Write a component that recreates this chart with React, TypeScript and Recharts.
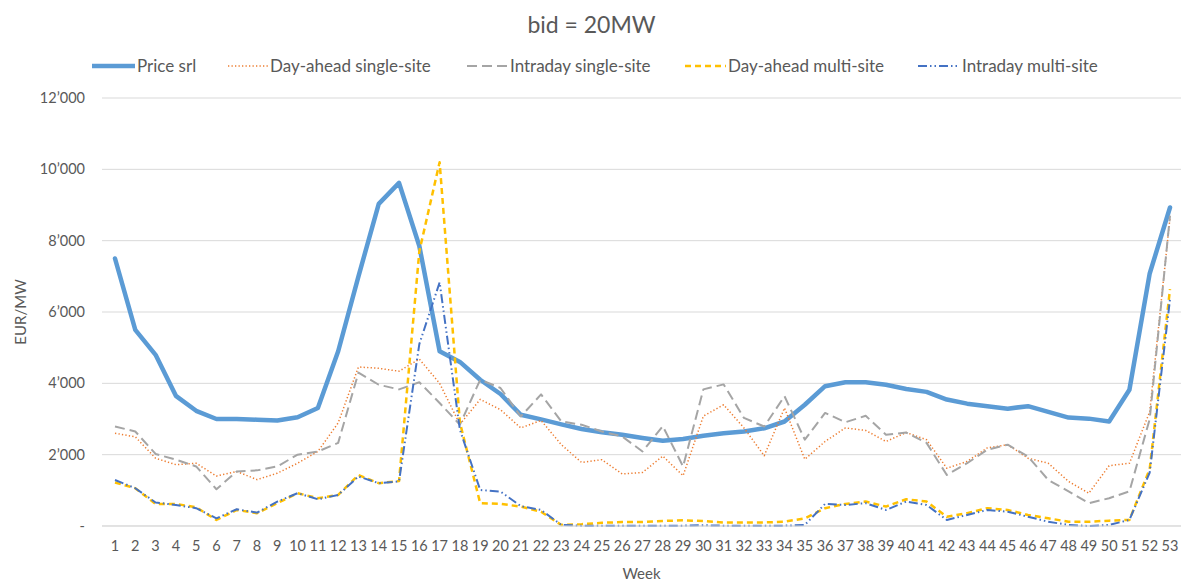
import { LineChart, Line, XAxis, YAxis, CartesianGrid } from "recharts";

const WEEKS = Array.from({ length: 53 }, (_, i) => String(i + 1));

const PRICE_SRL = [
  7500, 5500, 4800, 3650, 3230, 3000, 3000, 2980, 2960, 3050, 3310, 4900, 7000, 9030, 9620, 7850,
  4900, 4600, 4100, 3700, 3120, 2990, 2850, 2720, 2630, 2560, 2470, 2390, 2440, 2530, 2600, 2650,
  2740, 2930, 3400, 3920, 4030, 4030, 3960, 3840, 3760, 3545, 3430, 3360, 3290, 3360, 3200, 3040,
  3010, 2930, 3820, 7080, 8930,
];

const DAY_AHEAD_SINGLE = [
  2600, 2500, 1900, 1720, 1760, 1400, 1530, 1300, 1480, 1760, 2090, 2890, 4460, 4420, 4340, 4680,
  4000, 2850, 3550, 3260, 2750, 2960, 2280, 1780, 1860, 1460, 1500, 1960, 1410, 3080, 3400, 2750,
  1970, 3310, 1870, 2370, 2750, 2680, 2370, 2620, 2420, 1620, 1810, 2190, 2280, 1900, 1760, 1250,
  920, 1690, 1760, 3200, 8650,
];

const INTRADAY_SINGLE = [
  2790, 2650, 2020, 1860, 1670, 1030, 1530, 1560, 1670, 2000, 2090, 2330, 4300, 3960, 3830, 4030,
  3450, 2840, 4100, 3870, 3070, 3690, 2930, 2840, 2650, 2510, 2090, 2800, 1670, 3830, 3970, 3030,
  2790, 3640, 2420, 3170, 2910, 3090, 2560, 2620, 2330, 1430, 1760, 2140, 2280, 1950, 1290, 970,
  640, 780, 970, 3000, 8700,
];

const DAY_AHEAD_MULTI = [
  1220, 1060, 620, 620, 525, 170, 450, 360, 640, 920, 780, 870, 1430, 1200, 1260, 7700, 10200,
  2900, 640, 620, 545, 400, 30, 50, 90, 110, 110, 140, 160, 140, 100, 100, 100, 120, 215, 500, 620,
  685, 545, 750, 685, 260, 360, 500, 450, 310, 215, 120, 120, 150, 170, 1600, 6640,
];

const INTRADAY_MULTI = [
  1290, 1060, 660, 590, 500, 215, 470, 375, 685, 920, 750, 870, 1390, 1200, 1250, 5100, 6830, 2700,
  1010, 965, 560, 450, 30, 10, 10, 10, 10, 10, 10, 20, 10, 10, 10, 10, 30, 620, 590, 640, 450, 685,
  590, 170, 310, 450, 400, 260, 120, 30, 0, 30, 170, 1500, 6360,
];

const Y_TICKS = [0, 2000, 4000, 6000, 8000, 10000, 12000];

const SERIES = [
  { key: "price", name: "Price srl", color: "#5B9BD5", width: 4.5, dash: undefined, cap: "round", legendX: 92, textX: 137 },
  { key: "daSingle", name: "Day-ahead single-site", color: "#ED7D31", width: 1.5, dash: "1.3 2.2", cap: "butt", legendX: 228, textX: 270 },
  { key: "idSingle", name: "Intraday single-site", color: "#A5A5A5", width: 2, dash: "10 5", cap: "butt", legendX: 467, textX: 510 },
  { key: "daMulti", name: "Day-ahead multi-site", color: "#FFC000", width: 2.5, dash: "6 4", cap: "butt", legendX: 685, textX: 728 },
  { key: "idMulti", name: "Intraday multi-site", color: "#4472C4", width: 2, dash: "9 3 1.5 3 1.5 3", cap: "butt", legendX: 918, textX: 962 },
];

const data = WEEKS.map((week, i) => ({
  week,
  price: PRICE_SRL[i],
  daSingle: DAY_AHEAD_SINGLE[i],
  idSingle: INTRADAY_SINGLE[i],
  daMulti: DAY_AHEAD_MULTI[i],
  idMulti: INTRADAY_MULTI[i],
}));

const TEXT = "#595959";
const FONT = "Lato, 'Open Sans', sans-serif";

function formatTick(v: number) {
  if (v === 0) return "-";
  const s = String(v);
  return s.slice(0, s.length - 3) + "\u2019" + s.slice(-3);
}

function YTitle(props: any) {
  const vb = props.viewBox || { x: 0, y: 98, width: 102, height: 428 };
  const cy = vb.y + vb.height / 2;
  return (
    <text
      x={20}
      y={cy}
      transform={`rotate(-90 20 ${cy})`}
      textAnchor="middle"
      dominantBaseline="central"
      fill={TEXT}
      fontSize={15}
      fontFamily={FONT}
    >
      EUR/MW
    </text>
  );
}

export default function App() {
  return (
    <div
      style={{
        position: "absolute",
        left: 0,
        top: 0,
        width: 1183,
        height: 581,
        background: "#fff",
        fontFamily: FONT,
      }}
    >
      <div
        style={{
          position: "absolute",
          top: 10,
          left: 0,
          width: 1183,
          textAlign: "center",
          fontSize: 23,
          color: TEXT,
          lineHeight: "28px",
        }}
      >
        bid = 20MW
      </div>

      {SERIES.map((s) => (
        <div key={s.key}>
          <svg
            width={s.textX - s.legendX - 2}
            height={10}
            style={{ position: "absolute", left: s.legendX, top: 61 }}
          >
            <line
              x1={0}
              y1={5}
              x2={s.textX - s.legendX - 2}
              y2={5}
              stroke={s.color}
              strokeWidth={s.width}
              strokeDasharray={s.dash}
            />
          </svg>
          <span
            style={{
              position: "absolute",
              left: s.textX,
              top: 55,
              fontSize: 17,
              lineHeight: "22px",
              color: TEXT,
              whiteSpace: "nowrap",
            }}
          >
            {s.name}
          </span>
        </div>
      ))}

      <LineChart
        width={1183}
        height={581}
        data={data}
        margin={{ top: 98, right: 2, bottom: 0, left: 0 }}
      >
        <CartesianGrid vertical={false} stroke="#D9D9D9" strokeWidth={1} />
        <XAxis
          dataKey="week"
          height={55}
          interval={0}
          padding={{ left: 13, right: 11 }}
          tickLine={false}
          axisLine={{ stroke: "#D9D9D9" }}
          tickSize={0}
          tickMargin={15}
          tick={{ fill: TEXT, fontSize: 14.5, fontFamily: FONT }}
          label={{
            value: "Week",
            position: "insideBottom",
            offset: 2,
            fill: TEXT,
            fontSize: 15,
            fontFamily: FONT,
          }}
        />
        <YAxis
          width={102}
          domain={[0, 12000]}
          ticks={Y_TICKS}
          tickFormatter={formatTick}
          tickLine={false}
          axisLine={false}
          tickSize={0}
          tickMargin={17}
          tick={{ fill: TEXT, fontSize: 14.5, fontFamily: FONT }}
          label={<YTitle />}
        />
        {SERIES.map((s) => (
          <Line
            key={s.key}
            type="linear"
            dataKey={s.key}
            name={s.name}
            stroke={s.color}
            strokeWidth={s.width}
            strokeDasharray={s.dash}
            strokeLinecap={s.cap as any}
            strokeLinejoin="round"
            dot={false}
            activeDot={false}
            isAnimationActive={false}
          />
        ))}
      </LineChart>
    </div>
  );
}
